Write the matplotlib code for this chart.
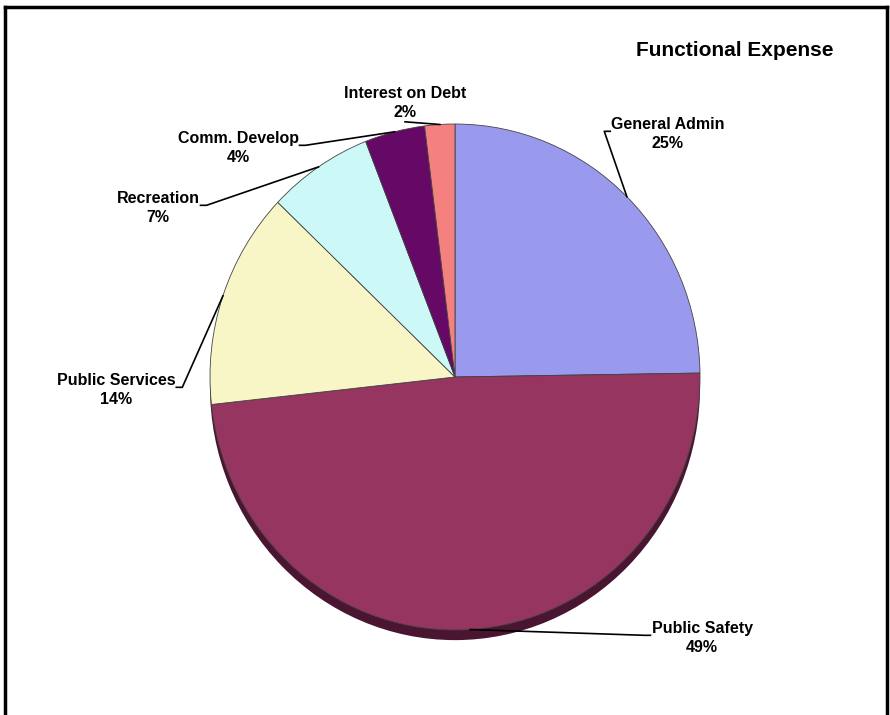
import numpy as np
import matplotlib.pyplot as plt
from matplotlib.lines import Line2D
from matplotlib.patches import Ellipse

categories = ['General Admin', 'Public Safety', 'Public Services',
              'Recreation', 'Comm. Develop', 'Interest on Debt']
values = [25, 49, 14, 7, 4, 2]
colors = ['#9999EE', '#963560', '#F8F6C6', '#CCF8F8', '#660866', '#F48080']

# label centres in pixels from top-left; side says which edge the leader leaves from
label_xy = [(668, 134), (702, 638), (116, 390), (158, 208), (238, 148), (405, 103)]
label_side = ['left', 'left', 'right', 'right', 'right', 'bottom']

W, H = 890, 715
fig = plt.figure(figsize=(W / 100, H / 100), dpi=100)
fig.patch.set_facecolor('white')

def fig_xy(px, py):
    return px / W, 1 - py / H

# pie axes: radius 1 maps to 245 px across, 253 px tall, centre at (455, 377)
cx, cy, rx, ry = 455, 377, 245, 253
aw, ah = rx * 2.5, ry * 2.5
ax = fig.add_axes([(cx - aw / 2) / W, (H - cy - ah / 2) / H, aw / W, ah / H])

# dark rim under the pie
ax.add_patch(Ellipse((0, -0.04), 2.0, 2.0, facecolor='#4A1530',
                     edgecolor='none', zorder=0))

wedges, _ = ax.pie(values, colors=colors, startangle=90, counterclock=False,
                   radius=1.0, wedgeprops=dict(edgecolor='#444444', linewidth=0.6))
ax.set_aspect('auto')
ax.set_xlim(-1.25, 1.25)
ax.set_ylim(-1.25, 1.25)
ax.axis('off')

renderer = fig.canvas.get_renderer()
for w, name, v, (lx, ly), side in zip(wedges, categories, values, label_xy, label_side):
    tx, ty = fig_xy(lx, ly)
    t = fig.text(tx, ty, f'{name}\n{round(v)}%', ha='center', va='center',
                 fontsize=11.5, fontweight='bold', family='Liberation Sans',
                 linespacing=1.3)
    bb = t.get_window_extent(renderer)
    # bbox in top-left pixel coords
    x0, x1 = bb.x0, bb.x1
    top, bot = H - bb.y1, H - bb.y0
    mid = np.deg2rad((w.theta1 + w.theta2) / 2)
    px = cx + rx * np.cos(mid)
    py = cy - ry * np.sin(mid)
    ey = top + 0.42 * (bot - top)
    if side == 'left':
        xs, ys = [x0 - 1, x0 - 7, px], [ey, ey, py]
    elif side == 'right':
        xs, ys = [x1 + 1, x1 + 7, px], [ey, ey, py]
    else:
        xs, ys = [lx, px], [bot + 2, py]
    fx, fy = zip(*[fig_xy(a, b) for a, b in zip(xs, ys)])
    fig.add_artist(Line2D(fx, fy, color='black', linewidth=1.2))

fig.text(*fig_xy(735, 50), 'Functional Expense', ha='center', va='center',
         fontsize=15, fontweight='bold', family='Liberation Sans')

# outer border
for seg in [[(5, 715), (5, 7)], [(5, 7), (887, 7)], [(887, 7), (887, 715)]]:
    fx, fy = zip(*[fig_xy(a, b) for a, b in seg])
    fig.add_artist(Line2D(fx, fy, color='black', linewidth=2.5))

fig.savefig('out.png', dpi=100, facecolor='white')
